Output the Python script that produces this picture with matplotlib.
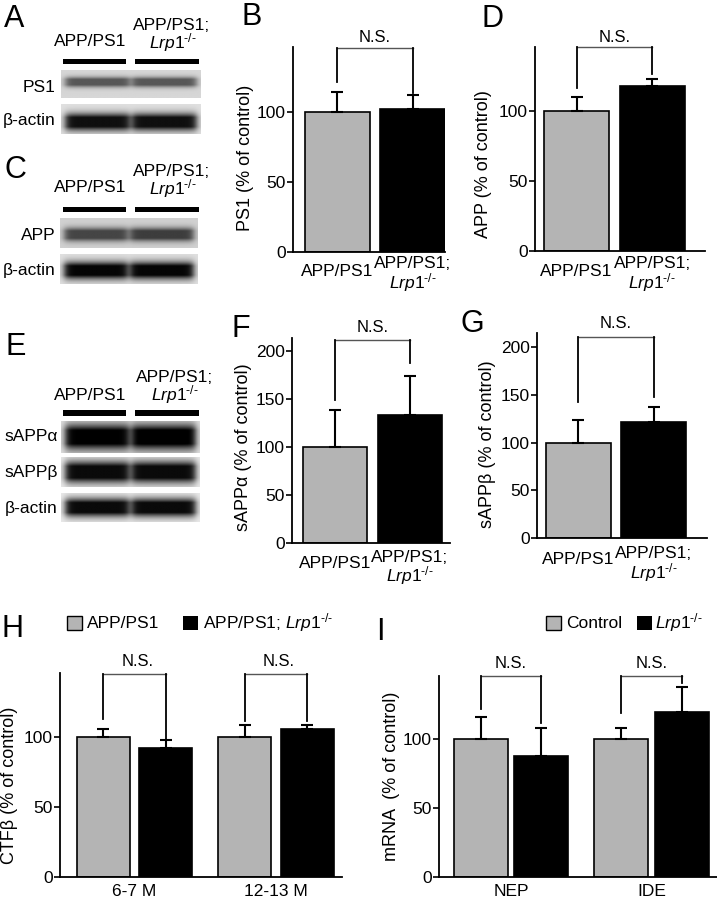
import numpy as np
import matplotlib
matplotlib.use('Agg')
import matplotlib.pyplot as plt
from matplotlib.patches import Rectangle

plt.rcParams['font.family'] = ['Liberation Sans', 'DejaVu Sans']
plt.rcParams['mathtext.fontset'] = 'custom'
plt.rcParams['mathtext.it'] = 'Liberation Sans:italic'
plt.rcParams['mathtext.rm'] = 'Liberation Sans'

W, H = 717, 900
GRAY = '#b4b4b4'
FS = 12.5
KO = r'$\mathit{Lrp1}^{\mathit{‐/‐}}$'

# values (% of control)
genotypes = ['APP/PS1', 'APP/PS1;']
ps1_mean = [100, 102]
ps1_err = [14, 10]
app_mean = [100, 118]
app_err = [10, 5]
sappa_mean = [100, 133]
sappa_err = [38, 41]
sappb_mean = [100, 121]
sappb_err = [24, 16]

ages = ['6-7 M', '12-13 M']
ctf_ctrl = [100, 100]
ctf_ctrl_err = [6, 9]
ctf_ko = [92, 106]
ctf_ko_err = [6, 3]

genes = ['NEP', 'IDE']
mrna_ctrl = [100, 100]
mrna_ctrl_err = [16, 8]
mrna_ko = [88, 120]
mrna_ko_err = [20, 18]

fig = plt.figure(figsize=(W / 100, H / 100), dpi=100)


def rect(x0, y0, x1, y1):
    return [x0 / W, 1 - y1 / H, (x1 - x0) / W, (y1 - y0) / H]


def ftxt(x, y, s, **kw):
    kw.setdefault('fontsize', FS)
    fig.text(x / W, 1 - y / H, s, **kw)


def fbox(x0, y0, x1, y1, fc='black', ec='none'):
    fig.add_artist(Rectangle((x0 / W, 1 - y1 / H), (x1 - x0) / W, (y1 - y0) / H,
                             transform=fig.transFigure, facecolor=fc,
                             edgecolor=ec, linewidth=1))


def blot(box, center, sigma, dark, bg):
    x0, y0, x1, y1 = box
    xs = np.linspace(0, 1, 300)
    ys = np.linspace(0, 1, 80)
    lane = np.zeros_like(xs)
    for (a, b), d in zip([(0.03, 0.49), (0.51, 0.97)], dark):
        lane += d * 0.5 * (np.tanh((xs - a) / 0.03) - np.tanh((xs - b) / 0.03))
    g = np.exp(-0.5 * ((ys - center) / sigma) ** 2)
    img = bg - np.outer(np.clip(1.4 * g, 0, 1), lane)
    ax = fig.add_axes(rect(*box))
    ax.imshow(img, cmap='gray', vmin=0, vmax=1, aspect='auto',
              interpolation='bilinear')
    ax.axis('off')


def style(ax, yticks):
    for s in ['top', 'right']:
        ax.spines[s].set_visible(False)
    for s in ['left', 'bottom']:
        ax.spines[s].set_linewidth(1.3)
    ax.set_xticks([])
    ax.set_yticks(yticks)
    ax.tick_params(axis='y', length=4, width=1.2, labelsize=FS, pad=1)


def bars(ax, pos, vals, errs, color, width):
    ax.bar(pos, vals, width, color=color, edgecolor='black', linewidth=1.2, zorder=2)
    ax.errorbar(pos, vals, yerr=[np.zeros(len(vals)), errs], fmt='none',
                ecolor='black', elinewidth=1.5, capsize=4, capthick=1.5, zorder=3)


def bracket(ax, xl, xr, top, yl, yr):
    ax.plot([xl, xr], [top, top], color='#555555', lw=1.0, clip_on=False)
    ax.plot([xl, xl], [top, yl], color='black', lw=1.3, clip_on=False)
    ax.plot([xr, xr], [top, yr], color='black', lw=1.3, clip_on=False)


def xlab(ax, x, y, s, **kw):
    kw.setdefault('fontsize', FS)
    ax.annotate(s, (x, H - y), xycoords=('data', 'figure pixels'), ha='center',
                va='center', annotation_clip=False, **kw)


def pair_panel(box, xlim, ylim, yticks, means, errs, top, legs, ns_y, lab_y, ylabel, ylab_xy):
    ax = fig.add_axes(rect(*box))
    bars(ax, [0], means[:1], errs[:1], GRAY, 0.86)
    bars(ax, [1], means[1:], errs[1:], 'black', 0.86)
    ax.set_xlim(*xlim)
    ax.set_ylim(*ylim)
    style(ax, yticks)
    bracket(ax, 0, 1, top, legs[0], legs[1])
    xlab(ax, 0.5, ns_y, 'N.S.', fontsize=12)
    xlab(ax, 0, lab_y[0], genotypes[0])
    xlab(ax, 1, lab_y[1], genotypes[1])
    xlab(ax, 1, lab_y[2], KO)
    ftxt(ylab_xy[0], ylab_xy[1], ylabel, rotation=90, ha='center', va='center',
         fontsize=13)
    return ax


# ---- western blots ----
for x, y, s in [(90, 42, 'APP/PS1'), (172, 25, 'APP/PS1;'), (173, 43, KO),
                (90, 187, 'APP/PS1'), (172, 171, 'APP/PS1;'), (173, 189, KO),
                (90, 396, 'APP/PS1'), (175, 378, 'APP/PS1;'), (175, 395, KO)]:
    ftxt(x, y, s, ha='center', va='center')

for y0, y1 in [(59, 64), (207, 212), (410, 416)]:
    fbox(63, y0, 126, y1)
    fbox(135, y0, 199, y1)

blot((61, 70, 201, 98), 0.43, 0.12, [0.5, 0.5], 0.84)
blot((61, 104, 201, 134), 0.6, 0.19, [0.82, 0.82], 0.88)
blot((60, 218, 198, 248), 0.55, 0.15, [0.55, 0.58], 0.82)
blot((60, 254, 198, 284), 0.55, 0.19, [0.86, 0.86], 0.88)
blot((61, 421, 200, 453), 0.5, 0.26, [0.88, 0.9], 0.88)
blot((61, 457, 200, 487), 0.5, 0.24, [0.88, 0.88], 0.92)
blot((61, 493, 200, 522), 0.5, 0.21, [0.88, 0.88], 0.92)

for x, y, s in [(56, 88, 'PS1'), (56, 120, 'β-actin'), (56, 236, 'APP'),
                (56, 271, 'β-actin'), (58, 437, 'sAPPα'), (58, 472, 'sAPPβ'),
                (58, 508, 'β-actin')]:
    ftxt(x, y, s, ha='right', va='center')

# ---- bar panels B, D, F, G ----
pair_panel((293, 47, 445, 252), (-0.59, 1.43), (0, 146), [0, 50, 100],
           ps1_mean, ps1_err, 145, (121, 113), 38, (272, 264, 283),
           'PS1 (% of control)', (245, 158))
pair_panel((535, 47, 705, 251), (-0.55, 1.70), (0, 146), [0, 50, 100],
           app_mean, app_err, 146, (117, 127), 38, (272, 264, 283),
           'APP (% of control)', (483, 164))
pair_panel((292, 338, 450, 543), (-0.573, 1.533), (0, 213.5), [0, 50, 100, 150, 200],
           sappa_mean, sappa_err, 211, (149, 187), 328, (563, 557, 576),
           'sAPPα (% of control)', (243, 447))
pair_panel((537, 333, 707, 538), (-0.553, 1.713), (0, 214.7), [0, 50, 100, 150, 200],
           sappb_mean, sappb_err, 211, (142, 148), 324, (560, 554, 573),
           'sAPPβ (% of control)', (488, 444))

# ---- H: CTFβ ----
axh = fig.add_axes(rect(60, 673, 342, 877))
xg = np.arange(len(ages))
bars(axh, xg - 0.22, ctf_ctrl, ctf_ctrl_err, GRAY, 0.375)
bars(axh, xg + 0.22, ctf_ko, ctf_ko_err, 'black', 0.375)
axh.set_xlim(-0.527, 1.466)
axh.set_ylim(0, 146)
style(axh, [0, 50, 100])
for i, (yl, yr) in enumerate([(113, 99), (112, 112)]):
    bracket(axh, i - 0.22, i + 0.22, 145, yl, yr)
    xlab(axh, i + 0.02, 662, 'N.S.', fontsize=12)
    xlab(axh, i, 892, ages[i])
ftxt(10, 785, 'CTFβ (% of control)', rotation=90, ha='center', va='center', fontsize=13)
fbox(67, 616, 82, 630, fc=GRAY, ec='black')
ftxt(87, 623, 'APP/PS1', va='center')
fbox(183, 616, 198, 630)
ftxt(203, 623, 'APP/PS1; ' + KO, va='center')

# ---- I: mRNA ----
axi = fig.add_axes(rect(439, 676, 717, 877))
bars(axi, xg - 0.214, mrna_ctrl, mrna_ctrl_err, GRAY, 0.384)
bars(axi, xg + 0.214, mrna_ko, mrna_ko_err, 'black', 0.384)
axi.set_xlim(-0.512, 1.466)
axi.set_ylim(0, 146)
style(axi, [0, 50, 100])
for i, (yl, yr) in enumerate([(122, 112), (119, 141)]):
    bracket(axi, i - 0.214, i + 0.214, 146, yl, yr)
    xlab(axi, i, 664, 'N.S.', fontsize=12)
    xlab(axi, i, 892, genes[i])
ftxt(392, 776, 'mRNA  (% of control)', rotation=90, ha='center', va='center', fontsize=13)
fbox(546, 616, 561, 630, fc=GRAY, ec='black')
ftxt(566, 623, 'Control', va='center')
fbox(637, 616, 652, 630)
ftxt(655, 623, KO, va='center')

# ---- panel letters ----
for x, y, s in [(4, 27, 'A'), (242, 25, 'B'), (4, 178, 'C'), (482, 27, 'D'),
                (6, 355, 'E'), (232, 337, 'F'), (461, 332, 'G'),
                (1, 637, 'H'), (376, 640, 'I')]:
    ftxt(x, y, s, fontsize=22, va='baseline')

fig.savefig('out.png', dpi=100)
